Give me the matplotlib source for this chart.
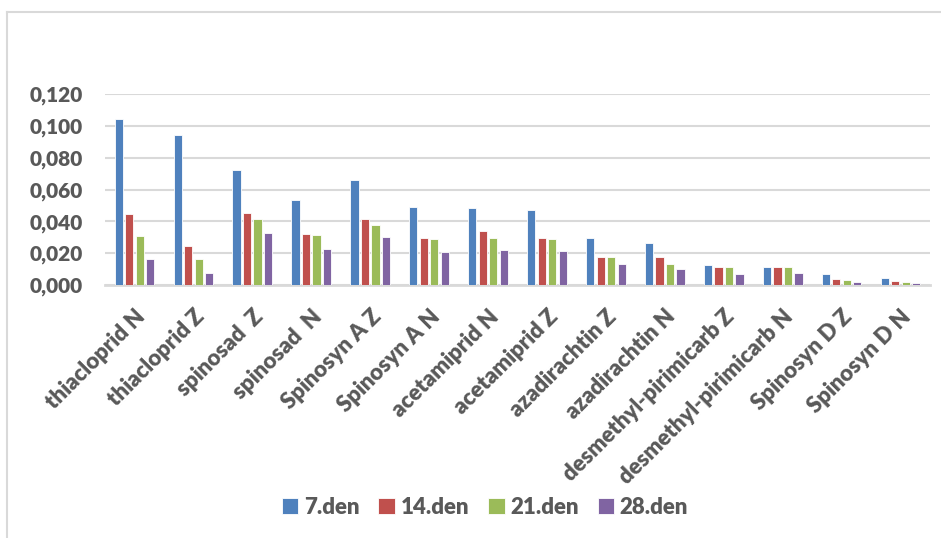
import numpy as np
import matplotlib.pyplot as plt
from matplotlib.lines import Line2D
from matplotlib.ticker import FuncFormatter

plt.rcParams['font.family'] = ['Lato', 'DejaVu Sans']
plt.rcParams['font.weight'] = 'bold'

categories = ['thiacloprid N', 'thiacloprid Z', 'spinosad  Z', 'spinosad  N',
              'Spinosyn A Z', 'Spinosyn A N', 'acetamiprid N', 'acetamiprid Z',
              'azadirachtin Z', 'azadirachtin N', 'desmethyl-pirimicarb Z',
              'desmethyl-pirimicarb N', 'Spinosyn D Z', 'Spinosyn D N']
den7 = [0.1040, 0.0940, 0.0725, 0.0536, 0.0658, 0.0490, 0.0481, 0.0470,
        0.0297, 0.0263, 0.0126, 0.0116, 0.0067, 0.0044]
den14 = [0.0448, 0.0248, 0.0450, 0.0322, 0.0414, 0.0294, 0.0337, 0.0295,
         0.0175, 0.0173, 0.0116, 0.0110, 0.0036, 0.0023]
den21 = [0.0307, 0.0166, 0.0412, 0.0311, 0.0380, 0.0288, 0.0293, 0.0288,
         0.0179, 0.0133, 0.0116, 0.0116, 0.0029, 0.0021]
den28 = [0.0164, 0.0078, 0.0324, 0.0225, 0.0303, 0.0210, 0.0217, 0.0215,
         0.0135, 0.0101, 0.0067, 0.0074, 0.0019, 0.0015]
series = [('7.den', den7), ('14.den', den14), ('21.den', den21), ('28.den', den28)]
colors = ['#4F81BD', '#C0504D', '#9BBB59', '#8064A2']

text_col = '#595959'
grid_col = '#D9D9D9'

fig = plt.figure(figsize=(9.41, 5.38), dpi=100)
ax = fig.add_axes([105 / 941, 1 - 285 / 538, 825 / 941, 191 / 538])

x = np.arange(len(categories))
w = 0.14
step = 0.178
for i, (name, vals) in enumerate(series):
    ax.bar(x + (i - 1.5) * step, vals, width=w, color=colors[i], label=name,
           edgecolor='#ffffff', linewidth=0.6, zorder=3)

ax.set_xlim(-0.5, len(categories) - 0.5)
ax.set_ylim(0, 0.12)
ax.set_yticks(np.arange(0, 0.121, 0.02))
ax.yaxis.set_major_formatter(FuncFormatter(lambda v, p: f'{v:.3f}'.replace('.', ',')))
ax.grid(axis='y', color=grid_col, linewidth=1.5, zorder=0)
ax.set_axisbelow(True)
for s in ['top', 'right', 'left']:
    ax.spines[s].set_visible(False)
ax.spines['bottom'].set_color(grid_col)
ax.spines['bottom'].set_linewidth(2)

ax.set_xticks(x)
ax.set_xticklabels(categories, rotation=45, ha='right', rotation_mode='anchor',
                   fontsize=16, color=text_col, fontweight='heavy')
ax.tick_params(axis='x', length=0, pad=15)
ax.tick_params(axis='y', length=0, pad=16, labelsize=15, labelcolor=text_col)
for t in ax.get_yticklabels():
    t.set_fontweight('heavy')

leg = fig.legend(loc='center', bbox_to_anchor=(485 / 941, 1 - 507 / 538), ncol=4,
                 frameon=False, fontsize=16, handlelength=0.75, handleheight=0.75,
                 handletextpad=0.25, columnspacing=0.85)
for t in leg.get_texts():
    t.set_color(text_col)
    t.set_fontweight('heavy')

# chart border (left and top edges visible)
fig.add_artist(Line2D([7 / 941, 7 / 941], [0, 1 - 12 / 538], color=grid_col, linewidth=1.5))
fig.add_artist(Line2D([7 / 941, 1], [1 - 12 / 538, 1 - 12 / 538], color=grid_col, linewidth=1.5))

fig.savefig('out.png', dpi=100)
